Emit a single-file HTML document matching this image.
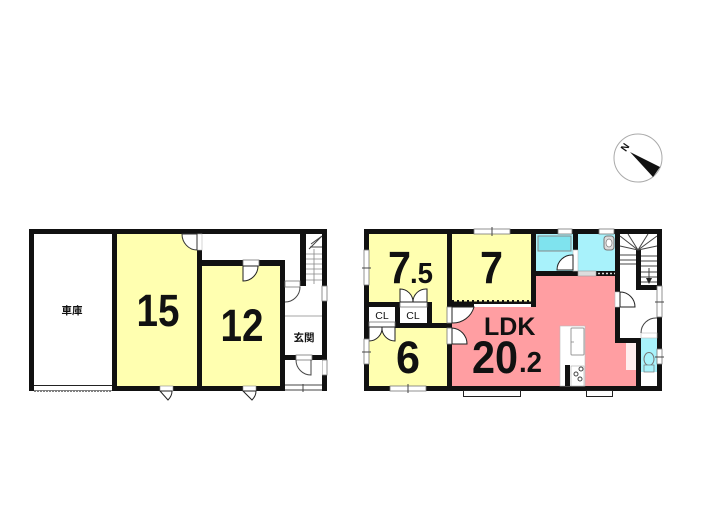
<!DOCTYPE html>
<html><head><meta charset="utf-8">
<style>
html,body{margin:0;padding:0;background:#fff;width:705px;height:525px;overflow:hidden}
svg{display:block;filter:blur(.35px)}
text{font-family:"Liberation Sans","Noto Sans CJK JP",sans-serif;fill:#111}
.n{font-weight:700;font-size:45px}
.cl{font-size:10.5px;font-weight:400}
.l{stroke:#444;stroke-width:1;fill:none}
.g{stroke:#888;stroke-width:.8;fill:none}
.d{fill:#fff;stroke:#333;stroke-width:1}
.w{fill:#fff;stroke:#777;stroke-width:.8}
</style></head><body>
<svg width="705" height="525" viewBox="0 0 705 525" xmlns="http://www.w3.org/2000/svg">
<!-- compass -->
<circle cx="638" cy="158" r="24" fill="#fff" stroke="#aaa" stroke-width="1"/>
<path d="M630 152L660 167L653 177Z" fill="#111"/>
<text x="622" y="151" font-size="10" font-weight="700" transform="rotate(-55 625 148)">N</text>

<!-- LEFT BUILDING -->
<rect x="29" y="229" width="298" height="162" fill="#111"/>
<rect x="34" y="234" width="78" height="151" fill="#fff"/>
<rect x="34" y="385.500" width="78" height="5" fill="#fff"/>
<path d="M34 385.500H112" stroke="#222" stroke-width="1"/>
<path d="M34 391H112" stroke="#333" stroke-width="1.200" stroke-dasharray="2 1"/>
<rect x="117" y="234" width="80" height="152" fill="#ffffb0"/>
<rect x="202" y="234" width="98" height="26" fill="#fff"/>
<rect x="285" y="260" width="15" height="26" fill="#fff"/>
<rect x="197" y="234" width="5" height="16" fill="#fff" stroke="#bbb" stroke-width=".6"/>
<path d="M197 250A15 16 0 0 1 182 234H197Z" fill="#fff" stroke="#333"/>
<rect x="202" y="266" width="78" height="120" fill="#ffffb0"/>
<!-- door 12 top -->
<rect x="243" y="260" width="16" height="6" class="w"/>
<path d="M243 266V281A15 15 0 0 0 258 266Z" fill="#fff" stroke="#222"/>
<!-- hall + genkan -->
<rect x="306" y="234" width="16" height="52" fill="#fff"/>
<rect x="285" y="286" width="37" height="69" fill="#fff"/>
<rect x="285" y="281" width="15" height="6" class="w"/>
<path d="M285 302A15 15 0 0 0 300 287" class="l" stroke="#111" stroke-width="1.500"/>
<path d="M285 316H322" class="g" stroke="#ccc"/>
<rect x="322" y="286" width="5" height="15" class="w"/>
<rect x="322" y="360" width="5" height="15" class="w"/>
<rect x="285" y="360" width="37" height="31" fill="#fff"/>
<rect x="296" y="355" width="16" height="5" class="w"/>
<path d="M296 360A15 15 0 0 0 311 375V360" class="l"/>
<path d="M285 385H322M285 390H322M303 384V392" class="l"/>
<!-- stairs -->
<path d="M306 254H322M306 259H322M306 264H322M306 269H322M306 274H322M306 280H322M314 249V284" class="g" stroke="#777"/>
<path d="M322 236L309 249M310 247H322M322 236L311 244" class="l" stroke="#555"/>
<!-- bottom doors -->
<rect x="160" y="386" width="13" height="5" fill="#fff" stroke="#888" stroke-width=".6"/>
<path d="M160 391L168 400Q172 396 172 391Z" fill="#fff" stroke="#222"/>
<rect x="243" y="386" width="13" height="5" fill="#fff" stroke="#888" stroke-width=".6"/>
<path d="M243 391L252 400Q256 396 256 391Z" fill="#fff" stroke="#222"/>
<text x="72" y="314" text-anchor="middle" font-size="10.500" font-weight="700">車庫</text>
<text x="304" y="341" font-size="10.500" font-weight="700" text-anchor="middle">玄関</text>
<text class="n" x="158" y="326" text-anchor="middle" textLength="43" lengthAdjust="spacingAndGlyphs">15</text>
<text class="n" x="242" y="341" text-anchor="middle" textLength="43" lengthAdjust="spacingAndGlyphs">12</text>

<!-- RIGHT BUILDING -->
<rect x="364" y="229" width="298" height="162" fill="#111"/>
<!-- 7.5 -->
<rect x="369" y="234" width="78" height="68" fill="#ffffb0"/>
<rect x="432" y="302" width="15" height="21" fill="#ffffb0"/>
<!-- CL -->
<rect x="369" y="307" width="26" height="15" fill="#fff"/>
<rect x="369" y="322" width="26" height="5" class="w"/>
<rect x="400" y="307" width="27" height="16" fill="#fff"/>
<rect x="400" y="302" width="27" height="5" class="w"/>
<path d="M400 302V289A13 13 0 0 1 413 302A13 13 0 0 1 427 289V302Z" fill="#fff" stroke="#222"/>
<text class="cl" x="382" y="319" text-anchor="middle">CL</text>
<text class="cl" x="413" y="319" text-anchor="middle">CL</text>
<!-- 6 -->
<rect x="369" y="327" width="26" height="59" fill="#ffffb0"/>
<rect x="395" y="328" width="52" height="58" fill="#ffffb0"/>
<path d="M369 327V341A13 13 0 0 0 382 327A13 13 0 0 0 395 341V327Z" fill="#fff" stroke="#222"/>
<!-- 7 -->
<rect x="452" y="234" width="79" height="66" fill="#ffffb0"/>
<path d="M452 302H474" stroke="#111" stroke-width="3"/>
<path d="M454 300.500H531" stroke="#ffffb0" stroke-width="2" stroke-dasharray="3 2"/>
<rect x="474" y="304" width="57" height="3" fill="#fff"/>
<!-- LDK -->
<rect x="536" y="276" width="79" height="40" fill="#ff9ea2"/>
<rect x="452" y="307" width="163" height="79" fill="#ff9ea2"/>
<rect x="615" y="343" width="21" height="43" fill="#ff9ea2"/>
<path d="M615 307V338" stroke="#111" stroke-width="0"/>
<rect x="531" y="300" width="5" height="7" fill="#111"/>
<rect x="626" y="343" width="10" height="27" fill="#ffeeee"/>
<!-- double door -->
<rect x="447" y="307" width="5" height="16" class="w"/>
<rect x="447" y="328" width="5" height="16" class="w"/>
<path d="M452 307H474A22 22 0 0 1 452 323Z" fill="#fff" stroke="#222"/>
<path d="M452 328V344H467A16 16 0 0 0 452 328Z" fill="#fff" stroke="#222"/>
<!-- kitchen -->
<rect x="560" y="326" width="25" height="60" fill="#fff" stroke="#bbb" stroke-width=".6"/>
<rect x="571" y="328" width="13" height="27" rx="1" fill="#fff" stroke="#999"/>
<path d="M571 342H574" class="g"/>
<rect x="565" y="365" width="5" height="21" fill="#111"/>
<rect x="571" y="366" width="13" height="20" fill="#fff" stroke="#aaa" stroke-width=".6"/>
<circle cx="581" cy="369" r="2" class="l" stroke-width=".7"/>
<circle cx="576" cy="374" r="2" class="l" stroke-width=".7"/>
<circle cx="580" cy="379" r="2" class="l" stroke-width=".7"/>
<!-- bath -->
<rect x="536" y="234" width="37" height="37" fill="#a8f2fb"/>
<rect x="538" y="236" width="33" height="15" fill="#7fe3ee" stroke="#888"/>
<rect x="578" y="234" width="37" height="37" fill="#a8f2fb"/>
<rect x="573" y="250" width="5" height="21" fill="#fff" stroke="#bbb" stroke-width=".6"/>
<path d="M573 255V270H557A15 15 0 0 1 573 255Z" fill="#fff" stroke="#222"/>
<rect x="558" y="229" width="14" height="5" class="w"/>
<rect x="599" y="229" width="15" height="5" class="w"/>
<rect x="578" y="271" width="18" height="5" fill="#ddd" stroke="#999" stroke-width=".6"/>
<path d="M598 273.500H615" stroke="#ddd" stroke-width="1.500" stroke-dasharray="2 2"/>
<rect x="604" y="236" width="10" height="14" rx="3" fill="#ddd" stroke="#777"/>
<ellipse cx="609" cy="243" rx="3" ry="4" fill="#fff" stroke="#777" stroke-width=".7"/>
<!-- stairs right -->
<rect x="620" y="234" width="37" height="51" fill="#fff"/>
<rect x="620" y="285" width="16" height="53" fill="#fff"/>
<rect x="636" y="290" width="21" height="48" fill="#fff"/>
<rect x="636" y="250" width="5" height="40" fill="#111"/>
<rect x="636" y="285" width="26" height="5" fill="#111"/>
<path d="M620 255H636M620 260H636M620 264H636M641 256H657M641 261H657M641 266H657M641 272H657M641 277H657M641 282H657" class="l" stroke="#555"/>
<path d="M620 236L638 250L657 236M628 234L638 250M648 234L638 250M620 246L638 250M657 246L638 250M649 268V283" class="l"/>
<path d="M646 278L649 284L652 278Z" fill="#222"/>
<!-- hall door -->
<rect x="615" y="292" width="5" height="15" fill="#fff" stroke="#bbb" stroke-width=".6"/>
<path d="M620 292A15 15 0 0 1 635 307H620Z" fill="#fff" stroke="#222"/>
<rect x="657" y="286" width="5" height="31" class="w"/>
<path d="M655 302H664" class="l"/>
<!-- toilet -->
<rect x="641" y="335" width="16" height="51" fill="#a8f2fb"/>
<rect x="641" y="333" width="16" height="5" fill="#fff" stroke="#bbb" stroke-width=".6"/>
<rect x="641" y="372" width="16" height="14" fill="#fff"/>
<path d="M641 333A15 15 0 0 1 657 318" class="l" stroke="#111" stroke-width="1.500"/>
<ellipse cx="649" cy="359" rx="5" ry="6.500" fill="#a8f2fb" stroke="#777"/>
<rect x="644" y="365" width="10" height="7" fill="#a8f2fb" stroke="#777" stroke-width=".7"/>
<rect x="657" y="349" width="5" height="15" class="w"/>
<path d="M655 357H664" class="l"/>
<!-- windows -->
<rect x="364" y="250" width="5" height="35" class="w"/>
<path d="M362 268H371" class="l"/>
<rect x="364" y="339" width="5" height="25" class="w"/>
<path d="M362 352H371" class="l"/>
<rect x="390" y="386" width="36" height="5" class="w"/>
<path d="M408 384V393" class="l"/>
<rect x="474" y="229" width="36" height="5" class="w"/>
<path d="M492 227V236" class="l"/>
<rect x="463.500" y="390.500" width="57" height="6" fill="#fff" stroke="#222"/>
<rect x="586.500" y="390.500" width="26" height="6" fill="#fff" stroke="#222"/>
<!-- labels -->
<text class="n" x="388" y="283" textLength="23" lengthAdjust="spacingAndGlyphs">7</text>
<text x="410" y="283" font-size="29" font-weight="700" textLength="23" lengthAdjust="spacingAndGlyphs">.5</text>
<text class="n" x="480" y="283" textLength="23" lengthAdjust="spacingAndGlyphs">7</text>
<text class="n" x="396" y="373" textLength="24" lengthAdjust="spacingAndGlyphs">6</text>
<text x="484" y="335" font-size="25" font-weight="700">LDK</text>
<text class="n" x="472" y="373" textLength="46" lengthAdjust="spacingAndGlyphs">20</text>
<text x="519" y="372" font-size="29" font-weight="700" textLength="23" lengthAdjust="spacingAndGlyphs">.2</text>
</svg>
</body></html>
